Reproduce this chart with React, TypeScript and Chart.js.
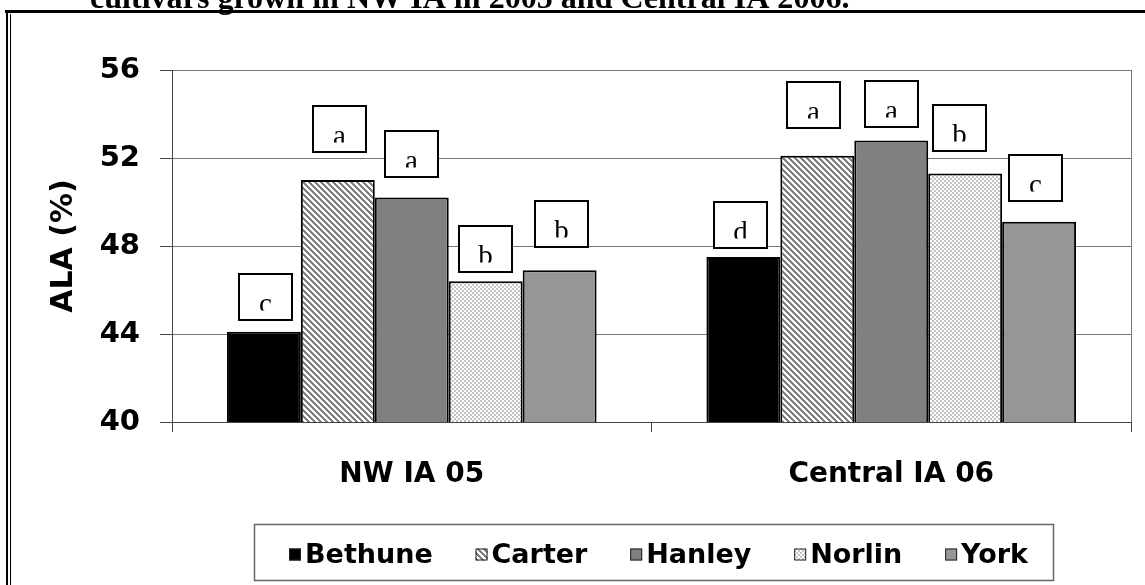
import React, { useEffect, useRef } from 'react';
import { Chart, registerables } from 'chart.js';

Chart.register(...registerables);

// ---------- data ----------
const categories = ['NW IA 05', 'Central IA 06'];
const cultivars = ['Bethune', 'Carter', 'Hanley', 'Norlin', 'York'];
const bethune = [44.1, 47.5];
const carter = [51.0, 52.1];
const hanley = [50.2, 52.8];
const norlin = [46.4, 51.3];
const york = [46.9, 49.1];
const bethuneLetters = ['c', 'd'];
const carterLetters = ['a', 'a'];
const hanleyLetters = ['a', 'a'];
const norlinLetters = ['b', 'b'];
const yorkLetters = ['b', 'c'];
const yMin = 40;
const yMax = 56;
const yStep = 4;
const yTitle = 'ALA (%)';
const captionText = 'cultivars grown in NW IA in 2005 and Central IA 2006.';

// ---------- layout / style ----------
const W = 1145;
const H = 585;
const SANS = "'DejaVu Sans', 'Liberation Sans', sans-serif";
const SERIF = "'Liberation Serif', 'DejaVu Serif', serif";
const GRID = '#777777';
const AXIS = '#444444';
// gap (px) between bar top and its letter box, and horizontal nudge
const letterGap = [[11, 8], [27, 27], [20, 12], [8, 21], [22, 20]];
const letterShift = [[1.5, -3], [1.5, -4], [0, 0], [0, -6], [2, -3.5]];

export default function App() {
  const ref = useRef<HTMLCanvasElement>(null);

  useEffect(() => {
    const canvas = ref.current!;
    const ctx0 = canvas.getContext('2d')!;

    const P = 6;
    const stripe = document.createElement('canvas');
    stripe.width = P;
    stripe.height = P;
    const s = stripe.getContext('2d')!;
    s.fillStyle = '#ffffff';
    s.fillRect(0, 0, P, P);
    s.fillStyle = '#808080';
    for (let y = 0; y < P; y++)
      for (let x = 0; x < P; x++)
        if ((((x - y) % P) + P) % P < 3) s.fillRect(x, y, 1, 1);
    const stripePattern = ctx0.createPattern(stripe, 'repeat')!;

    const check = document.createElement('canvas');
    check.width = 4;
    check.height = 4;
    const c = check.getContext('2d')!;
    c.fillStyle = '#ffffff';
    c.fillRect(0, 0, 4, 4);
    c.fillStyle = '#c4c4c4';
    c.fillRect(0, 0, 2, 2);
    c.fillRect(2, 2, 2, 2);
    const checkPattern = ctx0.createPattern(check, 'repeat')!;

    const seriesValues = [bethune, carter, hanley, norlin, york];
    const seriesLetters = [bethuneLetters, carterLetters, hanleyLetters, norlinLetters, yorkLetters];
    const fills: any[] = ['#000000', stripePattern, '#808080', checkPattern, '#969696'];

    const decorations = {
      id: 'decorations',
      afterDatasetsDraw(chart: any) {
        const ctx = chart.ctx as CanvasRenderingContext2D;
        const a = chart.chartArea;
        ctx.save();
        // right border of plot
        ctx.strokeStyle = GRID;
        ctx.lineWidth = 1;
        ctx.beginPath();
        ctx.moveTo(Math.round(a.right) + 0.5, a.top);
        ctx.lineTo(Math.round(a.right) + 0.5, a.bottom);
        ctx.stroke();
        // letter boxes
        const bw = 55;
        const bh = 48;
        seriesLetters.forEach((letters, di) => {
          const meta = chart.getDatasetMeta(di);
          meta.data.forEach((bar: any, i: number) => {
            const cx = bar.x + letterShift[di][i];
            const bottom = bar.y - letterGap[di][i];
            const left = Math.round(cx - bw / 2);
            const top = Math.round(bottom - bh);
            ctx.fillStyle = '#ffffff';
            ctx.fillRect(left, top, bw, bh);
            ctx.strokeStyle = '#000000';
            ctx.lineWidth = 2;
            ctx.strokeRect(left + 1, top + 1, bw - 2, bh - 2);
            ctx.save();
            ctx.beginPath();
            ctx.rect(left + 2, top + 2, bw - 4, bh - 12.5);
            ctx.clip();
            ctx.fillStyle = '#000000';
            ctx.font = `29px ${SERIF}`;
            ctx.textAlign = 'center';
            ctx.textBaseline = 'alphabetic';
            ctx.fillText(letters[i], left + bw / 2, top + bh - 8.5);
            ctx.restore();
          });
        });
        ctx.restore();
      },
      afterDraw(chart: any) {
        const ctx = chart.ctx as CanvasRenderingContext2D;
        const a = chart.chartArea;
        ctx.save();
        // y title
        ctx.fillStyle = '#000000';
        ctx.font = `bold 30px ${SANS}`;
        ctx.textAlign = 'center';
        ctx.textBaseline = 'middle';
        ctx.translate(64, (a.top + a.bottom) / 2);
        ctx.rotate(-Math.PI / 2);
        ctx.fillText(yTitle, 0, 0);
        ctx.setTransform(1, 0, 0, 1, 0, 0);

        // legend
        const lx0 = 254, ly0 = 524, lx1 = 1053, ly1 = 580;
        ctx.strokeStyle = '#666666';
        ctx.lineWidth = 1.5;
        ctx.strokeRect(lx0 + 0.5, ly0 + 0.5, lx1 - lx0, ly1 - ly0);
        ctx.font = `bold 27px ${SANS}`;
        const sw = 12, sg = 4;
        const widths = cultivars.map((n) => ctx.measureText(n).width);
        const contentW = 739;
        const used = widths.reduce((p, w) => p + w + sw + sg, 0);
        const spacing = (contentW - used) / (cultivars.length - 1);
        let x = (lx0 + lx1) / 2 + 5 - contentW / 2;
        const cy = 554.5;
        cultivars.forEach((name, i) => {
          ctx.fillStyle = fills[i];
          ctx.fillRect(x, cy - 6, sw, sw);
          ctx.strokeStyle = '#222222';
          ctx.lineWidth = 1;
          ctx.strokeRect(x + 0.5, cy - 5.5, sw - 1, sw - 1);
          ctx.fillStyle = '#000000';
          ctx.textAlign = 'left';
          ctx.textBaseline = 'middle';
          ctx.fillText(name, x + sw + sg, cy + 1);
          x += sw + sg + widths[i] + spacing;
        });

        // caption (cut at top of page)
        ctx.fillStyle = '#000000';
        ctx.font = `bold 30px ${SERIF}`;
        const cw = ctx.measureText(captionText).width;
        const fs = (30 * 760) / cw;
        ctx.font = `bold ${fs}px ${SERIF}`;
        ctx.textAlign = 'left';
        ctx.textBaseline = 'alphabetic';
        ctx.fillText(captionText, 90, 8);

        // page frame
        ctx.fillStyle = '#000000';
        ctx.fillRect(5, 10, W - 5, 3);
        ctx.fillRect(6, 10, 2, H - 10);
        ctx.fillRect(10, 14, 1, H - 14);
        ctx.restore();
      },
    };

    const chart = new Chart(canvas, {
      type: 'bar',
      data: {
        labels: categories,
        datasets: cultivars.map((name, i) => ({
          label: name,
          data: seriesValues[i],
          backgroundColor: fills[i],
          borderColor: '#000000',
          borderWidth: 2,
          borderSkipped: false,
          categoryPercentage: 0.771,
          barPercentage: 1,
        })),
      },
      options: {
        responsive: false,
        animation: false,
        devicePixelRatio: 1,
        layout: { padding: { top: 70, right: 14, bottom: 0, left: 0 } },
        plugins: {
          legend: { display: false },
          tooltip: { enabled: false },
        },
        scales: {
          x: {
            ticks: {
              color: '#000000',
              font: { family: SANS, size: 28, weight: 'bold' },
              padding: 26,
            },
            grid: {
              display: true,
              drawOnChartArea: false,
              offset: true,
              tickLength: 10,
              tickColor: AXIS,
            },
            border: { color: AXIS, width: 1 },
            afterFit: (sc: any) => {
              sc.height = 163;
            },
          },
          y: {
            min: yMin,
            max: yMax,
            ticks: {
              stepSize: yStep,
              color: '#000000',
              font: { family: SANS, size: 29, weight: 'bold' },
              padding: 20,
            },
            grid: {
              color: GRID,
              lineWidth: 1,
              tickLength: 12,
              tickColor: AXIS,
            },
            border: { color: AXIS, width: 1 },
            afterFit: (sc: any) => {
              sc.width = 172;
            },
          },
        },
      },
      plugins: [decorations],
    } as any);

    return () => chart.destroy();
  }, []);

  return (
    <div style={{ position: 'absolute', left: 0, top: 0, width: W, height: H, background: '#ffffff' }}>
      <canvas ref={ref} width={W} height={H} style={{ display: 'block' }} />
    </div>
  );
}
